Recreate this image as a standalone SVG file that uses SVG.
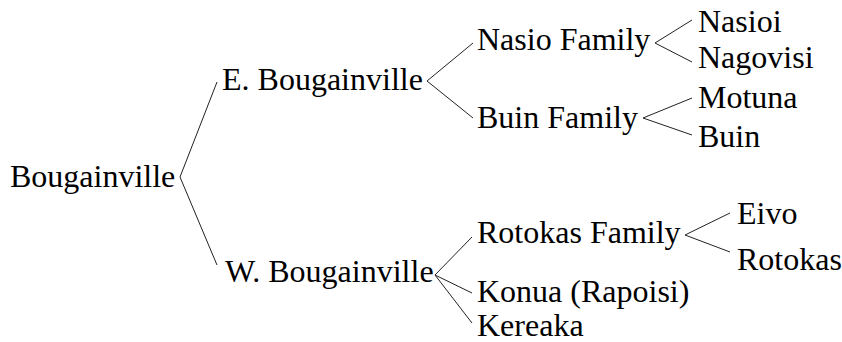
<svg xmlns="http://www.w3.org/2000/svg" width="842" height="342" viewBox="0 0 842 342">
<style>
text{font-family:"Liberation Serif","Times New Roman",serif;font-size:32px;fill:#000}
.c line{stroke:#222;stroke-width:1}
</style>
<rect width="842" height="342" fill="#fff"/>
<g class="c" id="connectors">
<line x1="180" y1="177" x2="217" y2="82"/>
<line x1="180" y1="177" x2="217" y2="265"/>
<line x1="427" y1="81" x2="473" y2="43"/>
<line x1="427" y1="81" x2="473" y2="118"/>
<line x1="655" y1="43" x2="692" y2="20"/>
<line x1="655" y1="43" x2="692" y2="62"/>
<line x1="643" y1="118" x2="692" y2="98"/>
<line x1="643" y1="118" x2="692" y2="135"/>
<line x1="435" y1="275" x2="472" y2="237"/>
<line x1="435" y1="275" x2="472" y2="293"/>
<line x1="435" y1="275" x2="472" y2="323"/>
<line x1="685" y1="235" x2="730" y2="213"/>
<line x1="685" y1="235" x2="730" y2="252"/>
</g>
<g id="n-bougainville"><text x="10" y="187">Bougainville</text></g>
<g id="n-e"><text x="222" y="90">E. Bougainville</text></g>
<g id="n-w"><text x="225" y="282">W. Bougainville</text></g>
<g id="n-nasio"><text x="477" y="50">Nasio Family</text></g>
<g id="n-buinfam"><text x="477" y="128">Buin Family</text></g>
<g id="n-nasioi"><text x="698" y="32">Nasioi</text></g>
<g id="n-nagovisi"><text x="698" y="68">Nagovisi</text></g>
<g id="n-motuna"><text x="698" y="108">Motuna</text></g>
<g id="n-buin"><text x="698" y="147">Buin</text></g>
<g id="n-rotokasfam"><text x="477" y="243">Rotokas Family</text></g>
<g id="n-eivo"><text x="737" y="224">Eivo</text></g>
<g id="n-rotokas"><text x="737" y="270">Rotokas</text></g>
<g id="n-konua"><text x="477" y="302">Konua (Rapoisi)</text></g>
<g id="n-kereaka"><text x="477" y="336">Kereaka</text></g>
</svg>
